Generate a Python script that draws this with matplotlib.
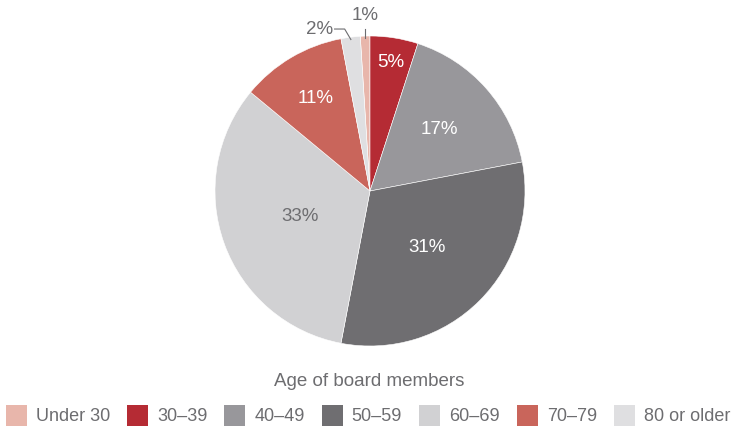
import numpy as np
import matplotlib
matplotlib.use('Agg')
import matplotlib.pyplot as plt
from matplotlib.patches import Patch

plt.rcParams['font.family'] = ['Liberation Sans', 'DejaVu Sans']

# data
categories = ['Under 30', '30\u201339', '40\u201349', '50\u201359', '60\u201369', '70\u201379', '80 or older']
shares = [1, 5, 17, 31, 33, 11, 2]
colors = ['#e8b6ab', '#b52b34', '#98979b', '#6f6e71', '#d1d1d3', '#c9655b', '#dfdfe1']

text_gray = '#6d6d70'
label_color = ['gray', 'white', 'white', 'white', 'gray', 'white', 'gray']
label_r = [None, 0.84, 0.60, 0.52, 0.48, 0.69, None]

fig = plt.figure(figsize=(7.37, 4.29), dpi=100)
W, H = 737, 429
cx, cy, R = 370, 191, 155
ax = fig.add_axes([(cx - R) / W, (H - cy - R) / H, 2 * R / W, 2 * R / H])

start = 90 + 360.0 * shares[0] / sum(shares)
wedges, _ = ax.pie(shares, colors=colors, startangle=start, counterclock=False,
                   radius=1, wedgeprops=dict(edgecolor='white', linewidth=0.4))
ax.set_xlim(-1, 1)
ax.set_ylim(-1, 1)
ax.axis('off')

for i, w in enumerate(wedges):
    mid = np.deg2rad((w.theta1 + w.theta2) / 2)
    txt = '%d%%' % shares[i]
    if label_r[i] is not None:
        r = label_r[i]
        c = 'white' if label_color[i] == 'white' else text_gray
        ax.text(r * np.cos(mid), r * np.sin(mid), txt, color=c, fontsize=13.5,
                ha='center', va='center')
    else:
        tipx, tipy = 0.985 * np.cos(mid), 0.985 * np.sin(mid)
        if shares[i] == 1:
            ax.plot([tipx, tipx], [tipy, 1.045], color=text_gray, lw=0.8, clip_on=False)
            ax.text(tipx, 1.13, txt, color=text_gray, fontsize=13.5, ha='center', va='center')
        else:
            ex, ey = tipx - 0.04, 1.045
            ax.plot([tipx, ex, ex - 0.065], [tipy, ey, ey], color=text_gray, lw=0.8, clip_on=False)
            ax.text(ex - 0.065 - 0.01, 1.04, txt, color=text_gray, fontsize=13.5, ha='right', va='center')

fig.text(369 / W, 1 - 381 / H, 'Age of board members', color=text_gray, fontsize=13.5,
         ha='center', va='center')

# legend
handles = [Patch(facecolor=c, edgecolor='none') for c in colors]
fs = 13
px = fs * 100 / 72.0
hh = (21 / px - 0.245) / 0.65   # matplotlib trims a descent off the handle box
leg = fig.legend(handles, categories, ncol=len(categories), loc='center',
                 bbox_to_anchor=(368 / W, 1 - 415.5 / H), frameon=False,
                 fontsize=fs, handlelength=21 / px, handleheight=hh,
                 handletextpad=9 / px, columnspacing=17 / px, borderpad=0,
                 borderaxespad=0)
for t in leg.get_texts():
    t.set_color(text_gray)

fig.savefig('out.png', dpi=100, facecolor='white')
